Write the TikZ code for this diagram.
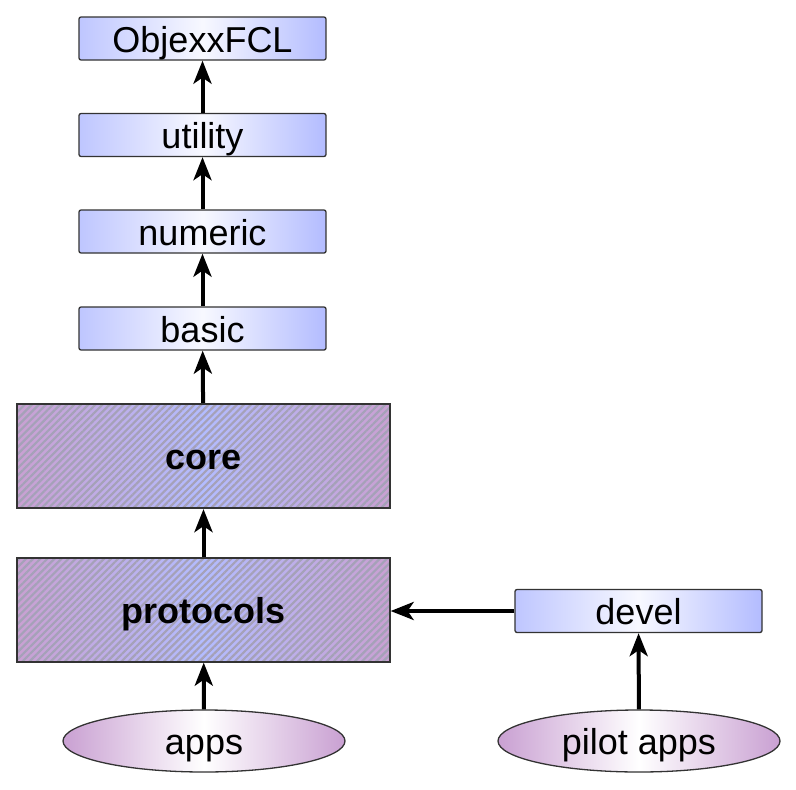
\documentclass[tikz,border=0pt]{standalone}
\usepackage{fontspec}
\setmainfont{Liberation Sans}
\usepackage{tikz}
\usetikzlibrary{arrows.meta,shapes.geometric,patterns.meta}

\definecolor{libblue}{HTML}{B3BCFF}
\definecolor{libpurple}{HTML}{C9A0D2}
\definecolor{hatchgray}{HTML}{8E8AA6}

\begin{document}
\begin{tikzpicture}[x=1pt,y=-1pt,
    every node/.style={font=\fontsize{36}{40}\selectfont,inner sep=0pt,
      text height=27pt,text depth=0pt},
    lib/.style={draw=black!80,line width=1.3pt,rounded corners=2pt,
      minimum width=247pt,minimum height=43pt,
      left color=libblue!85,right color=libblue,middle color=libblue!10},
    layer/.style={draw=black!80,line width=1.3pt,
      minimum width=373pt,minimum height=104pt,font=\fontsize{36}{40}\selectfont\bfseries,
      preaction={left color=libpurple,right color=libpurple,middle color=libblue},
      pattern={Lines[angle=45,distance=5pt,line width=2.2pt]},pattern color=hatchgray!80},
    app/.style={ellipse,draw=black!80,line width=1.3pt,
      minimum width=282pt,minimum height=62pt,
      left color=libpurple,right color=libpurple,middle color=white},
    arr/.style={-{Stealth[length=23pt,width=18pt,inset=6pt]},line width=4pt}]
    \useasboundingbox (0,0) rectangle (796,790);
    \node[lib] (objexx) at (202.5,38.5) {ObjexxFCL};
    \node[lib] (utility) at (202.5,135) {utility};
    \node[lib] (numeric) at (202.5,231.5) {numeric};
    \node[lib] (basic) at (202.5,328.5) {basic};
    \node[layer] (core) at (203.5,456) {core};
    \node[layer] (protocols) at (203.5,610) {protocols};
    \node[lib] (devel) at (638.5,611) {devel};
    \node[app] (apps) at (204,741) {apps};
    \node[app] (pilot) at (639,741) {pilot apps};
    % dependencies
    \draw[arr] (utility) -- (objexx);
    \draw[arr] (numeric) -- (utility);
    \draw[arr] (basic) -- (numeric);
    \draw[arr] (core) -- (basic);
    \draw[arr] (protocols) -- (core);
    \draw[arr] (apps) -- (protocols);
    \draw[arr] (devel.west) -- (devel.west -| protocols.east);
    \draw[arr] (pilot) -- (devel);
\end{tikzpicture}
\end{document}
